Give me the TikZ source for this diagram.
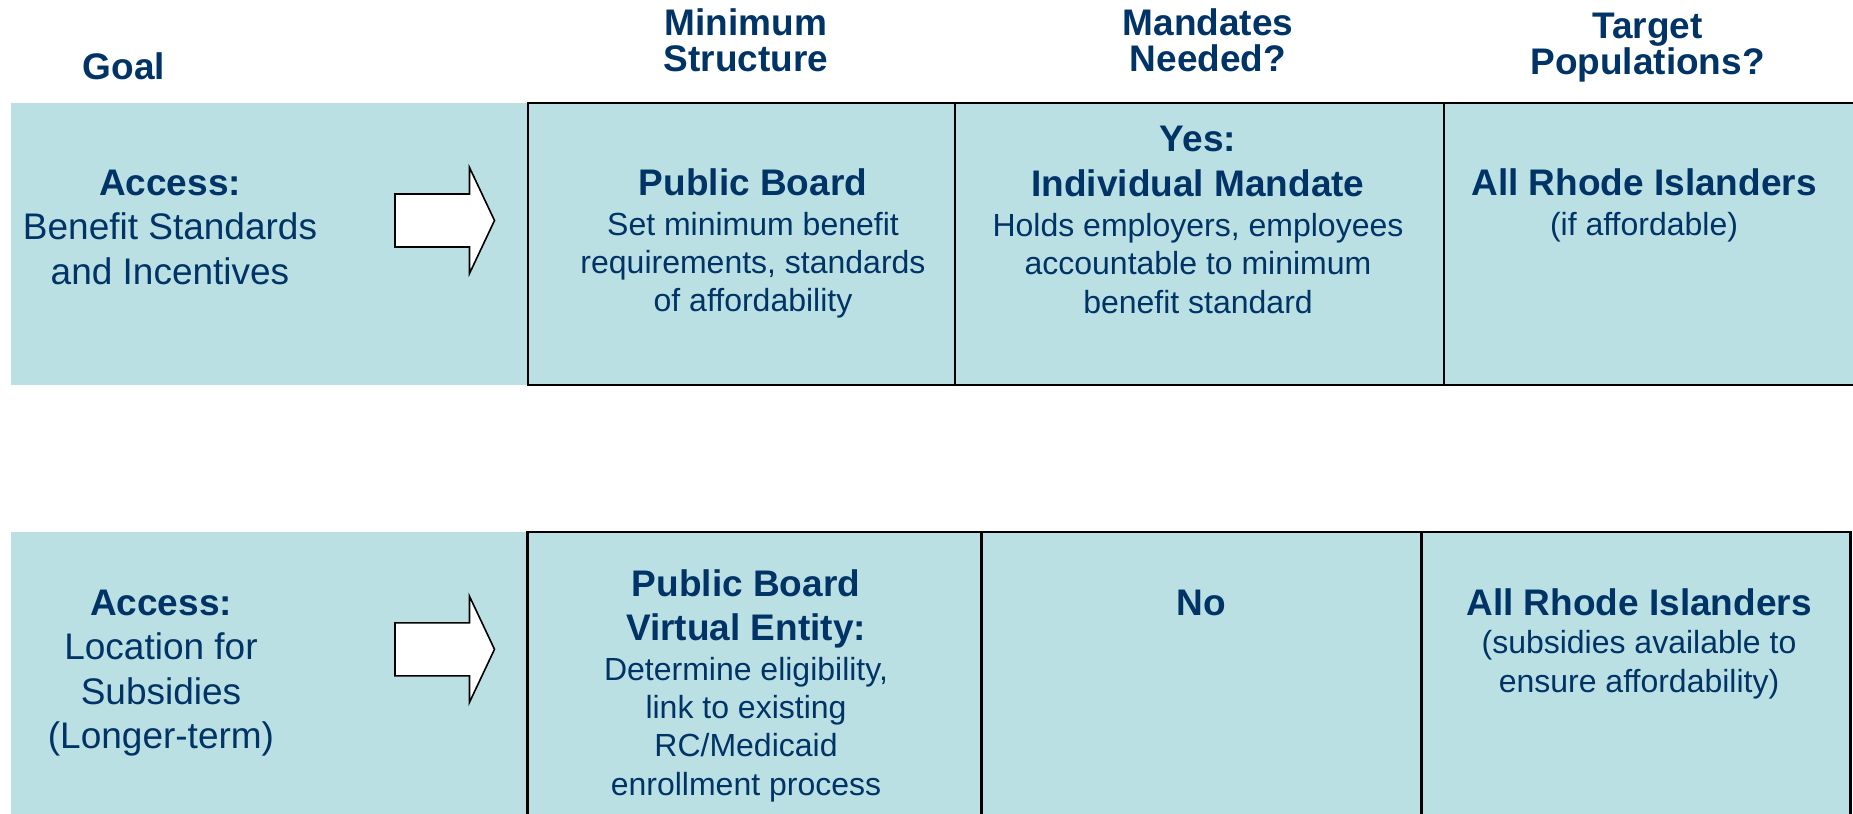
\documentclass[tikz,border=0pt]{standalone}
\usepackage{fontspec}
\setmainfont{Liberation Sans}
\definecolor{cellfill}{HTML}{BBE0E3}
\definecolor{navy}{HTML}{003366}

\begin{document}
\begin{tikzpicture}[x=1pt,y=-1pt,
  % multi-line nodes are placed by the baseline of their last line
  txt/.style={text=navy, align=center, inner sep=0pt, anchor=base},
  headtxt/.style={txt, font=\bfseries\fontsize{37}{35.5}\selectfont},
  goaltxt/.style={txt, font=\fontsize{37}{44.5}\selectfont},
  titletxt/.style={txt, font=\bfseries\fontsize{37}{45}\selectfont},
  bodytxt/.style={txt, font=\fontsize{32}{38.4}\selectfont},
  rule/.style={draw=black, line width=2.2pt},
  blockarrow/.style={draw=black, fill=white, line width=1.6pt, line join=miter},
  pics/rightarrow/.style={code={
    \path[blockarrow] (0,-26.5) -- (74.5,-26.5) -- (74.5,-53) -- (99.5,0)
      -- (74.5,53) -- (74.5,26.5) -- (0,26.5) -- cycle;}}]

\path[use as bounding box] (0,0) rectangle (1853,814);
\clip (0,0) rectangle (1853,814);
\fill[white] (0,0) rectangle (1853,814);

% column headings
\node[headtxt] (hgoal) at (124,79) {Goal};
\node[headtxt] (hstruct) at (746,71) {Minimum\\Structure};
\node[headtxt] (hmand) at (1208,71) {Mandates\\Needed?};
\node[headtxt] (hpop) at (1647.5,74) {Target\\Populations?};

% row backgrounds
\fill[cellfill] (10.6,103) rectangle (1853,385);
\fill[cellfill] (10.6,532) rectangle (1850.5,814);

% first row: cell borders
\draw[rule] (528,103) rectangle (955,385);
\draw[rule] (955,103) rectangle (1444,385);
\draw[rule] (1853,103) -- (1444,103) (1444,385) -- (1853,385);

% second row: cell borders
\draw[rule] (527.5,532) rectangle (981.5,830);
\draw[rule] (981.5,532) rectangle (1421.5,830);
\draw[rule] (1421.5,532) rectangle (1850.5,830);

% arrows from goal to structure
\pic at (395,220.5) {rightarrow};
\pic at (395,649.3) {rightarrow};

% first row: text
\node[goaltxt] (goalA) at (170,284) {\textbf{Access:}\\Benefit Standards\\and Incentives};
\node[titletxt] (structA) at (753,195) {Public Board};
\node[bodytxt] (structAbody) at (753,311.8) {Set minimum benefit\\requirements, standards\\of affordability};
\node[titletxt] (mandA) at (1198,196.7) {Yes:\\Individual Mandate};
\node[bodytxt] (mandAbody) at (1198,313.3) {Holds employers, employees\\accountable to minimum\\benefit standard};
\node[titletxt] (popA) at (1644,195) {All Rhode Islanders};
\node[bodytxt] (popAbody) at (1644,235) {(if affordable)};

% second row: text
\node[goaltxt] (goalB) at (161,748.5) {\textbf{Access:}\\Location for\\Subsidies\\(Longer-term)};
\node[txt, font=\bfseries\fontsize{37}{43.3}\selectfont] (structB) at (746,640) {Public Board\\Virtual Entity:};
\node[bodytxt] (structBbody) at (746,795.2) {Determine eligibility,\\link to existing\\RC/Medicaid\\enrollment process};
\node[titletxt] (mandB) at (1201,615) {No};
\node[titletxt] (popB) at (1639,615) {All Rhode Islanders};
\node[txt, font=\fontsize{32}{39}\selectfont] (popBbody) at (1639,692) {(subsidies available to\\ensure affordability)};
\end{tikzpicture}
\end{document}
